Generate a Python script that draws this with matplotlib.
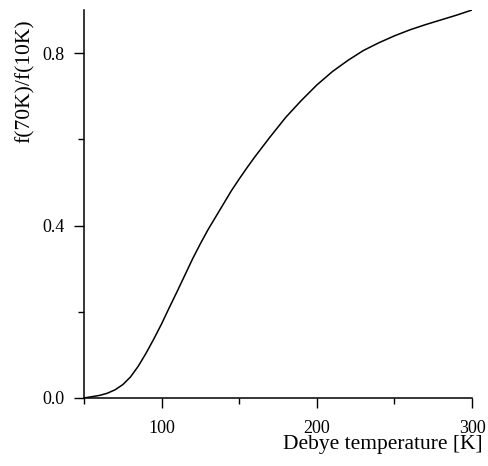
import numpy as np
import matplotlib
matplotlib.use('Agg')
import matplotlib.pyplot as plt
from matplotlib.ticker import MultipleLocator

# Debye temperature [K] vs ratio f(70K)/f(10K)
debye_temp = [50, 55, 60, 65, 70, 75, 80, 85, 90, 95, 100, 105, 110, 115, 120,
              125, 130, 135, 140, 145, 150, 155, 160, 170, 180, 190, 200, 210,
              220, 230, 240, 250, 260, 270, 280, 290, 300]
ratio = [0.0, 0.003, 0.006, 0.011, 0.019, 0.031, 0.049, 0.074, 0.104, 0.137,
         0.172, 0.210, 0.247, 0.285, 0.323, 0.358, 0.391, 0.421, 0.451, 0.481,
         0.508, 0.534, 0.559, 0.606, 0.651, 0.690, 0.726, 0.757, 0.783, 0.806,
         0.824, 0.840, 0.854, 0.866, 0.877, 0.888, 0.900]

x_ticks = [100, 200, 300]
y_ticks = [0.0, 0.4, 0.8]
y_tick_labels = ['0.0', '0.4', '0.8']

plt.rcParams['font.family'] = 'Liberation Serif'

fig = plt.figure(figsize=(4.88, 4.66), dpi=100)
ax = fig.add_axes([84/488, 1 - 398/466, 388/488, 388/466])

ax.plot(debye_temp, ratio, color='black', lw=1.1, solid_joinstyle='round')

ax.set_xlim(50, 300)
ax.set_ylim(0, 0.9)
ax.set_xticks(x_ticks)
ax.set_yticks(y_ticks)
ax.set_yticklabels(y_tick_labels)
ax.xaxis.set_minor_locator(MultipleLocator(50))
ax.yaxis.set_minor_locator(MultipleLocator(0.2))

for side in ['top', 'right']:
    ax.spines[side].set_visible(False)
for side in ['left', 'bottom']:
    ax.spines[side].set_linewidth(1.1)

ax.tick_params(which='major', direction='out', length=7, width=1.0, labelsize=13)
ax.tick_params(axis='x', which='major', pad=9)
ax.tick_params(axis='y', which='major', pad=7)
ax.tick_params(which='minor', direction='out', length=4, width=1.0)

fig.text(25.5/488, 1 - 81/466, 'f(70K)/f(10K)', rotation=90, ha='center', va='center', fontsize=15.5)
fig.text(483/488, 1 - 445/466, 'Debye temperature [K]', ha='right', va='center', fontsize=15.5)

fig.savefig('out.png', dpi=100)
